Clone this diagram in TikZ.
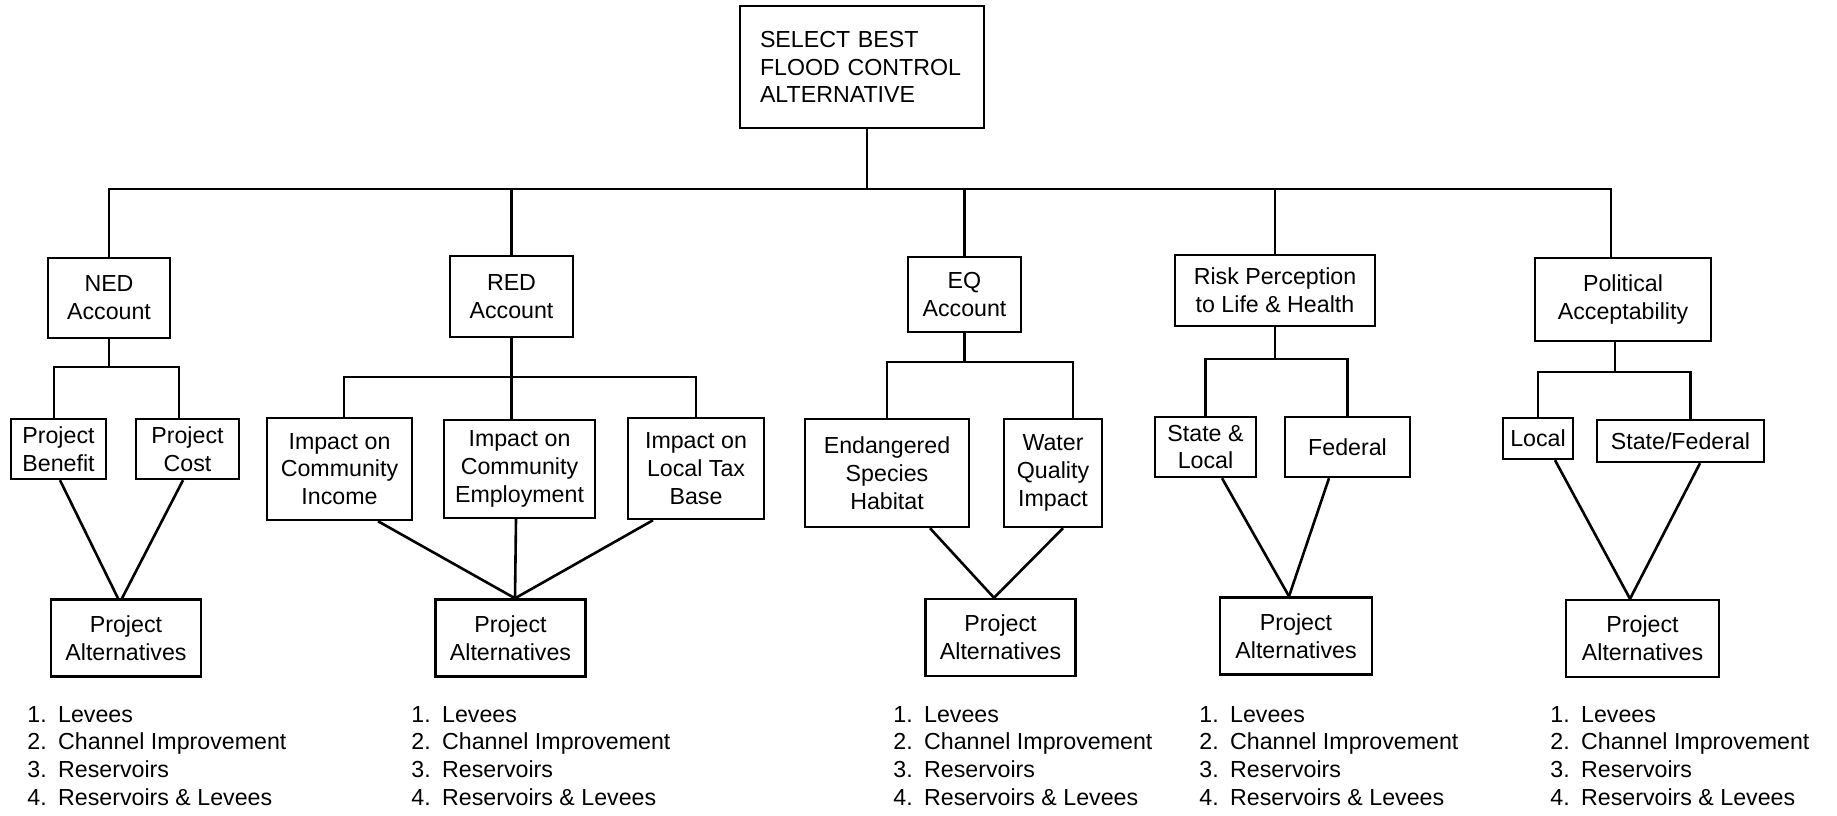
\documentclass[tikz,border=0pt]{standalone}
\usepackage{fontspec}
\setmainfont{Liberation Sans}
\newcommand\myaltlist{\begin{tabular}[t]{@{}l@{\hspace{5.7pt}}l@{}}1.&Levees\\2.&Channel Improvement\\3.&Reservoirs\\4.&Reservoirs \& Levees\end{tabular}}
\begin{document}
\begin{tikzpicture}[x=0.5pt,y=-0.5pt,
  box/.style={draw, line width=1.2pt, align=center, inner sep=1pt, font=\fontsize{11.6}{13.9}\selectfont},
  conn/.style={line width=1.3pt},
  listtext/.style={inner sep=0pt, anchor=base west, font=\fontsize{11.6}{13.9}\selectfont}]
\useasboundingbox (0,0) rectangle (1837,815);
% top
\node[box, align=left, text width=102pt, inner xsep=10pt, minimum height=61pt] (top) at (862,67) {SELECT BEST\\FLOOD CONTROL\\ALTERNATIVE};
% accounts
\node[box, minimum width=61pt, minimum height=40pt] (ned) at (109,298) {NED\\Account};
\node[box, minimum width=61.5pt, minimum height=40.5pt] (red) at (511.5,296.5) {RED\\Account};
\node[box, minimum width=56.5pt, minimum height=37.5pt] (eq) at (964.5,294.5) {EQ\\Account};
\node[box, minimum width=100pt, minimum height=35.5pt] (risk) at (1275,290.5) {Risk Perception\\to Life \& Health};
\node[box, minimum width=88pt, minimum height=41.5pt] (pol) at (1623,299.5) {Political\\Acceptability};
% criteria
\node[box, minimum width=47.5pt, minimum height=30pt] (benefit) at (58.5,449) {Project\\Benefit};
\node[box, minimum width=51.5pt, minimum height=30pt] (cost) at (187.5,449) {Project\\Cost};
\node[box, minimum width=72.5pt, minimum height=51pt] (income) at (339.5,469) {Impact on\\Community\\Income};
\node[box, minimum width=75.5pt, minimum height=49pt] (employ) at (519.5,469) {Impact on\\Community\\Employment};
\node[box, minimum width=68pt, minimum height=50.5pt] (tax) at (696,468.5) {Impact on\\Local Tax\\Base};
\node[box, minimum width=82pt, minimum height=54pt] (endang) at (887,473) {Endangered\\Species\\Habitat};
\node[box, minimum width=49pt, minimum height=54pt] (water) at (1053,473) {Water\\Quality\\Impact};
\node[box, minimum width=50.5pt, minimum height=30pt] (stloc) at (1205.5,447) {State \&\\Local};
\node[box, minimum width=62.5pt, minimum height=30pt] (federal) at (1347.5,447) {Federal};
\node[box, minimum width=35pt, minimum height=20.5pt] (local) at (1538,438.5) {Local};
\node[box, minimum width=83.5pt, minimum height=21pt] (stfed) at (1680.5,441) {State/Federal};
% project alternatives
\node[box, minimum width=75pt, minimum height=38.5pt] (pa1) at (126,638) {Project\\Alternatives};
\node[box, minimum width=75pt, minimum height=38.5pt] (pa2) at (510.5,638) {Project\\Alternatives};
\node[box, minimum width=75pt, minimum height=38.5pt] (pa3) at (1000.5,637.5) {Project\\Alternatives};
\node[box, minimum width=76pt, minimum height=38.5pt] (pa4) at (1296,636) {Project\\Alternatives};
\node[box, minimum width=76.5pt, minimum height=38.5pt] (pa5) at (1642.5,638.5) {Project\\Alternatives};
% lists
\node[listtext] (l1) at (27,722) {\myaltlist};
\node[listtext] (l2) at (411,722) {\myaltlist};
\node[listtext] (l3) at (893,722) {\myaltlist};
\node[listtext] (l4) at (1199,722) {\myaltlist};
\node[listtext] (l5) at (1550,722) {\myaltlist};
% main bus
\coordinate (bus) at (0,189);
\draw[conn] ([xshift=2.5pt]top.south) -- ([xshift=2.5pt]top.south |- bus);
\draw[conn] (ned.north) |- ([xshift=-6pt]pol.north |- bus) -- ([xshift=-6pt]pol.north);
\draw[conn] (red.north) -- (red.north |- bus);
\draw[conn] (eq.north) -- (eq.north |- bus);
\draw[conn] (risk.north) -- (risk.north |- bus);
% NED
\coordinate (b1) at (0,367);
\draw[conn] (ned.south) -- (ned.south |- b1);
\draw[conn] ([xshift=-2.25pt]benefit.north) |- ([xshift=-4.25pt]cost.north |- b1) -- ([xshift=-4.25pt]cost.north);
\draw[conn] ([xshift=0.75pt]benefit.south) -- ([xshift=-4pt]pa1.north);
\draw[conn] ([xshift=-2.25pt]cost.south) -- ([xshift=-2pt]pa1.north);
% RED
\coordinate (b2) at (0,377);
\draw[conn] (red.south) -- (red.south |- employ.north);
\draw[conn] ([xshift=2.25pt]income.north) |- (tax.north |- b2) -- (tax.north);
\draw[conn] ([xshift=19.25pt]income.south) -- ([xshift=2.25pt]pa2.north);
\draw[conn] ([xshift=-1.75pt]employ.south) -- ([xshift=2.25pt]pa2.north);
\draw[conn] ([xshift=-21.5pt]tax.south) -- ([xshift=2.25pt]pa2.north);
% EQ
\coordinate (b3) at (0,362);
\draw[conn] (eq.south) -- (eq.south |- b3);
\draw[conn] (endang.north) |- ([xshift=10pt]water.north |- b3) -- ([xshift=10pt]water.north);
\draw[conn] ([xshift=21.5pt]endang.south) -- ([xshift=-3.25pt]pa3.north);
\draw[conn] ([xshift=5pt]water.south) -- ([xshift=-3.25pt]pa3.north);
% Risk
\coordinate (b4) at (0,359);
\draw[conn] (risk.south) -- (risk.south |- b4);
\draw[conn] (stloc.north) |- (federal.north |- b4) -- (federal.north);
\draw[conn] ([xshift=8.25pt]stloc.south) -- ([xshift=-3.5pt]pa4.north);
\draw[conn] ([xshift=-9.25pt]federal.south) -- ([xshift=-3.5pt]pa4.north);
% Political
\coordinate (b5) at (0,372);
\draw[conn] ([xshift=-4pt]pol.south) -- ([xshift=-4pt]pol.south |- b5);
\draw[conn] (local.north) |- ([xshift=5pt]stfed.north |- b5) -- ([xshift=5pt]stfed.north);
\draw[conn] ([xshift=8.5pt]local.south) -- ([xshift=-6.25pt]pa5.north);
\draw[conn] ([xshift=9.75pt]stfed.south) -- ([xshift=-6.25pt]pa5.north);
\end{tikzpicture}
\end{document}
